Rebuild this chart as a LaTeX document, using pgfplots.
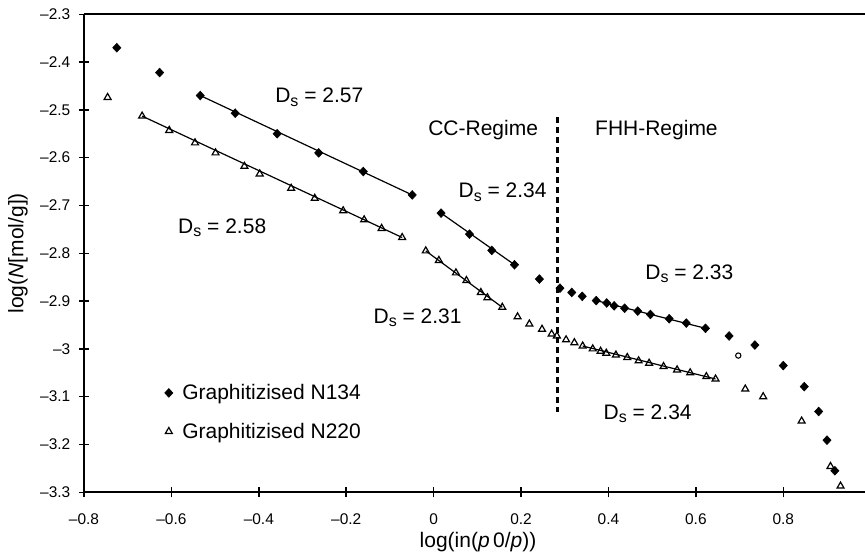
\documentclass[border=0pt]{standalone}
\usepackage{pgfplots}
\pgfplotsset{compat=1.18}
\usepackage{pgfplotstable}
\usepackage{fontspec}
\setmainfont{Liberation Sans}

% Graphitised carbon black N134
\pgfplotstableread{
x y
-0.725 -2.370
-0.627 -2.422
-0.534 -2.470
-0.454 -2.507
-0.358 -2.550
-0.263 -2.590
-0.161 -2.629
-0.049 -2.678
0.017 -2.716
0.082 -2.760
0.133 -2.794
0.185 -2.824
0.242 -2.854
0.289 -2.873
0.316 -2.882
0.340 -2.890
0.372 -2.899
0.396 -2.904
0.413 -2.910
0.437 -2.915
0.467 -2.921
0.496 -2.928
0.539 -2.937
0.578 -2.946
0.622 -2.957
0.676 -2.973
0.735 -2.992
0.800 -3.035
0.848 -3.079
0.881 -3.131
0.900 -3.191
0.918 -3.255
}\nonethirtyfour

% Graphitised carbon black N220
\pgfplotstableread{
x y
-0.746 -2.474
-0.667 -2.513
-0.605 -2.543
-0.546 -2.569
-0.499 -2.590
-0.433 -2.618
-0.398 -2.634
-0.326 -2.664
-0.272 -2.685
-0.207 -2.711
-0.159 -2.730
-0.119 -2.748
-0.072 -2.767
-0.018 -2.795
0.012 -2.815
0.051 -2.841
0.075 -2.857
0.108 -2.882
0.123 -2.893
0.157 -2.913
0.192 -2.933
0.219 -2.948
0.248 -2.959
0.270 -2.969
0.282 -2.973
0.303 -2.981
0.322 -2.987
0.341 -2.994
0.364 -3.000
0.382 -3.005
0.395 -3.009
0.417 -3.013
0.443 -3.018
0.469 -3.025
0.493 -3.030
0.526 -3.037
0.557 -3.044
0.587 -3.050
0.624 -3.058
0.645 -3.063
0.713 -3.084
0.754 -3.100
0.842 -3.151
0.908 -3.246
0.931 -3.287
}\ntwotwenty

\newcommand{\Ds}{D\raisebox{-2.6pt}{\fontsize{12}{12}\selectfont s}}
\newcommand{\annfont}{\fontsize{15.75}{18}\selectfont}

\begin{document}
\begin{tikzpicture}
\useasboundingbox (-63pt,-49.3pt) rectangle (585.75pt,369.2pt);
\begin{axis}[
  scale only axis,
  width=585.75pt, height=358.5pt,
  xmin=-0.8, xmax=0.987,
  ymin=-3.3, ymax=-2.3,
  axis x line*=box,
  axis y line*=left,
  axis line style={line width=1.3pt},
  xtick={-0.8,-0.6,-0.4,-0.2,0,0.2,0.4,0.6,0.8},
  xticklabels={–0.8,–0.6,–0.4,–0.2,0,0.2,0.4,0.6,0.8},
  ytick={-3.3,-3.2,-3.1,-3,-2.9,-2.8,-2.7,-2.6,-2.5,-2.4,-2.3},
  yticklabels={–3.3,–3.2,–3.1,–3,–2.9,–2.8,–2.7,–2.6,–2.5,–2.4,–2.3},
  xtick pos=bottom,
  tick align=center,
  major tick length=7.5pt,
  tick style={line width=1.1pt, black},
  ticklabel style={font=\fontsize{11.6}{13}\selectfont},
  xticklabel style={yshift=-9pt},
  yticklabel style={xshift=-3pt},
  xlabel={log(in(\textit{p}\,0/\textit{p}))},
  ylabel={log(\textit{N}[mol/g])},
  label style={font=\annfont},
  xlabel style={at={(axis description cs:0.5045,-0.1033)}, anchor=center},
  ylabel style={at={(axis description cs:-0.0845,0.5)}, anchor=center},
  clip=false,
  legend style={at={(axis description cs:0.103,0.232)}, anchor=north west,
    draw=none, fill=none, font=\annfont, row sep=12pt, column sep=5pt,
    inner sep=0pt, nodes={inner sep=2pt}},
  legend cell align=left,
  legend image code/.code={\draw[#1] plot coordinates {(0cm,0cm)};},
]
\addplot[only marks, mark=diamond*, mark size=3.3pt,
  mark options={fill=black, draw=black, xscale=1.25}] table {\nonethirtyfour};
\addlegendentry{Graphitizised N134}
\addplot[only marks, mark=triangle, mark size=3pt,
  mark options={draw=black, line width=0.9pt}] table {\ntwotwenty};
\addlegendentry{Graphitizised N220}

% odd point between the series
\addplot[only marks, mark=o, mark size=2pt, mark options={line width=0.8pt},
  forget plot] coordinates {(0.697,-3.014)};

% fitted straight segments, N134
\addplot[black, line width=0.9pt, forget plot] coordinates {(-0.534,-2.470) (-0.049,-2.678)};
\addplot[black, line width=0.9pt, forget plot] coordinates {(0.017,-2.716) (0.185,-2.824)};
\addplot[black, line width=0.9pt, forget plot] coordinates {(0.372,-2.899) (0.622,-2.957)};
% fitted straight segments, N220
\addplot[black, line width=0.9pt, forget plot] coordinates {(-0.667,-2.513) (-0.072,-2.767)};
\addplot[black, line width=0.9pt, forget plot] coordinates {(-0.018,-2.795) (0.157,-2.913)};
\addplot[black, line width=0.9pt, forget plot] coordinates {(0.341,-2.994) (0.645,-3.063)};

% boundary between the two regimes
\addplot[black, line width=2.3pt, dash pattern=on 4.5pt off 3pt, forget plot]
  coordinates {(0.284,-2.515) (0.284,-3.133)};

\node[anchor=base west, font=\annfont, inner sep=0pt] at (axis cs:-0.363,-2.4856) {\Ds{} = 2.57};
\node[anchor=base west, font=\annfont, inner sep=0pt] at (axis cs:-0.585,-2.758) {\Ds{} = 2.58};
\node[anchor=base west, font=\annfont, inner sep=0pt] at (axis cs:-0.0128,-2.5546) {CC-Regime};
\node[anchor=base west, font=\annfont, inner sep=0pt] at (axis cs:0.369,-2.5546) {FHH-Regime};
\node[anchor=base west, font=\annfont, inner sep=0pt] at (axis cs:0.0565,-2.684) {\Ds{} = 2.34};
\node[anchor=base west, font=\annfont, inner sep=0pt] at (axis cs:-0.138,-2.9465) {\Ds{} = 2.31};
\node[anchor=base west, font=\annfont, inner sep=0pt] at (axis cs:0.4838,-2.854) {\Ds{} = 2.33};
\node[anchor=base west, font=\annfont, inner sep=0pt] at (axis cs:0.3884,-3.147) {\Ds{} = 2.34};
\end{axis}
\end{tikzpicture}
\end{document}
